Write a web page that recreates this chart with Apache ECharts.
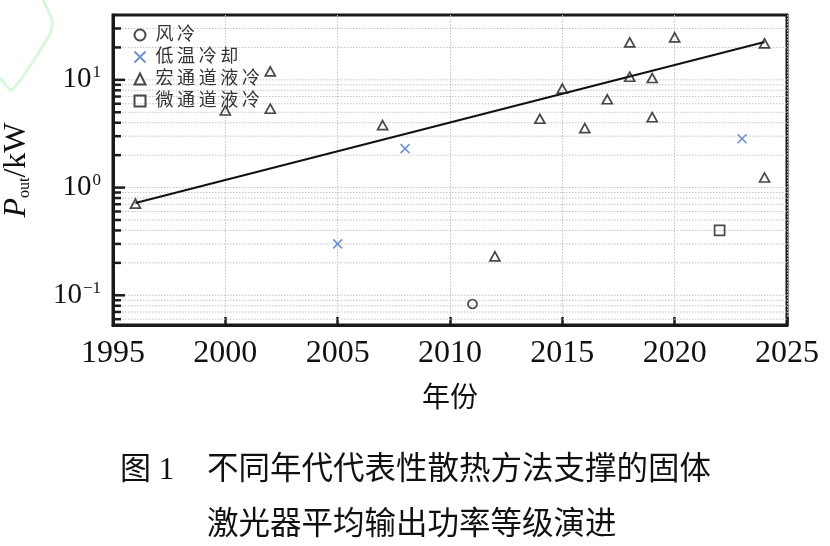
<!DOCTYPE html>
<html>
<head>
<meta charset="utf-8">
<script src="https://cdn.jsdelivr.net/npm/echarts@6/dist/echarts.min.js"></script>
<style>
  html, body { margin: 0; padding: 0; background: #fff; }
  #chart { width: 830px; height: 546px; }
</style>
</head>
<body>
<div id="chart"></div>
<script>
var serif = '"Liberation Serif", "Noto Sans CJK SC", serif';

// data (year, P_out in kW)
var airCooled = [[2011, 0.083]];
var cryoCooled = [[2005, 0.30], [2008, 2.3], [2023, 2.84]];
var macroChannel = [
    [1996, 0.71], [2000, 5.2], [2002, 12.0], [2002, 5.4], [2007, 3.8],
    [2012, 0.23], [2014, 4.35], [2015, 8.3], [2016, 3.56], [2017, 6.6],
    [2018, 22.3], [2018, 10.7], [2019, 10.4], [2019, 4.5], [2020, 24.8],
    [2024, 21.8], [2024, 1.24]
];
var microChannel = [[2022, 0.40]];
var fitLine = [[1996, 0.72], [2024, 22.5]];

var seriesNames = ['风冷', '低温冷却', '宏通道液冷', '微通道液冷'];
var decadeLabels = { '0.1': '−1', '1': '0', '10': '1' };
// minor + major ticks of the log axis
var yTickValues = [
    0.06, 0.07, 0.08, 0.09, 0.1, 0.2, 0.3, 0.4, 0.5, 0.6, 0.7, 0.8, 0.9,
    1, 2, 3, 4, 5, 6, 7, 8, 9, 10, 20, 30
];

function isDecade(v) {
    var l = Math.log10(v);
    return Math.abs(l - Math.round(l)) < 1e-6;
}

var chart = echarts.init(document.getElementById('chart'));

var markerStyle = {
    color: 'none',
    borderColor: '#1a1a1a',
    borderWidth: 1.7
};

var option = {
    animation: false,
    backgroundColor: '#fff',
    grid: {
        left: 113, right: 43, top: 15, bottom: 221,
        containLabel: false,
        outerBoundsMode: 'none',
        show: true,
        borderColor: '#1a1a1a',
        borderWidth: 3,
        backgroundColor: 'transparent'
    },
    legend: {
        orient: 'vertical',
        left: 127,
        top: 21,
        itemWidth: 11,
        itemHeight: 11,
        itemGap: 4,
        data: seriesNames,
        formatter: function (name) { return name.split('').join('\u2009'); },
        textStyle: {
            fontFamily: serif,
            fontSize: 18,
            color: '#333',
            padding: [0, 0, 0, 5]
        }
    },
    xAxis: {
        type: 'value',
        min: 1995,
        max: 2025,
        interval: 5,
        name: '年份',
        nameLocation: 'middle',
        nameGap: 61,
        nameTextStyle: { fontFamily: serif, fontSize: 28, color: '#111' },
        axisLine: { show: true, lineStyle: { color: '#1a1a1a', width: 3 } },
        axisTick: { show: true, inside: true, length: 8, lineStyle: { color: '#1a1a1a', width: 2.5 } },
        axisLabel: {
            fontFamily: serif, fontSize: 32, color: '#111', margin: 13,
            formatter: function (v) { return String(v); }
        },
        splitLine: { show: true, lineStyle: { color: '#c4c4c4', width: 1, type: [1.5, 1.5] } }
    },
    yAxis: {
        type: 'log',
        logBase: 10,
        min: 0.053,
        max: 40,
        name: '{p|P}{sub|out}{u|/kW}',
        nameLocation: 'middle',
        nameRotate: 90,
        nameGap: 80,
        nameTextStyle: {
            rich: {
                p: { fontFamily: serif, fontSize: 32, fontStyle: 'italic', color: '#111' },
                sub: { fontFamily: serif, fontSize: 16, color: '#111', verticalAlign: 'bottom', padding: [12, 0, 0, 0] },
                u: { fontFamily: serif, fontSize: 32, color: '#111' }
            }
        },
        axisLine: { show: true, lineStyle: { color: '#1a1a1a', width: 3 } },
        axisTick: { show: false },
        splitLine: { show: false },
        axisLabel: {
            margin: 12,
            formatter: function (v) {
                if (!isDecade(v)) return '';
                var key = String(Math.round(Math.pow(10, Math.round(Math.log10(v))) * 10) / 10);
                return '{b|10}{s|' + decadeLabels[key] + '}';
            },
            rich: {
                b: { fontFamily: serif, fontSize: 29, color: '#111' },
                s: { fontFamily: serif, fontSize: 17, color: '#111', verticalAlign: 'top', padding: [0, 0, 14, 1] }
            }
        }
    },
    graphic: [
        {
            type: 'polyline', silent: true,
            shape: { points: [[43, 0], [52, 20], [50, 34], [12, 90], [0, 78]], smooth: 0.2 },
            style: { stroke: '#d6f8de', lineWidth: 3, fill: null }
        },
        {
            type: 'text', left: 120, top: 455,
            style: { text: '图 1', font: '31px ' + serif, fill: '#111' }
        },
        {
            type: 'text', left: 207, top: 455,
            style: { text: '不同年代代表性散热方法支撑的固体', font: '31.5px ' + serif, fill: '#111' }
        },
        {
            type: 'text', left: 207, top: 510,
            style: { text: '激光器平均输出功率等级演进', font: '31.5px ' + serif, fill: '#111' }
        }
    ],
    series: [
        {
            // dotted horizontal grid + inward ticks on the log axis
            type: 'custom',
            silent: true,
            z: 1,
            data: yTickValues.map(function (v) { return [1995, v]; }),
            renderItem: function (params, api) {
                var v = api.value(1);
                var p = api.coord([1995, v]);
                var cs = params.coordSys;
                var major = isDecade(v);
                return {
                    type: 'group',
                    children: [
                        {
                            type: 'line',
                            shape: { x1: cs.x, y1: p[1], x2: cs.x + cs.width, y2: p[1] },
                            style: { stroke: '#c4c4c4', lineWidth: 1, lineDash: [1.5, 1.5] }
                        },
                        {
                            type: 'line',
                            shape: { x1: cs.x, y1: p[1], x2: cs.x + (major ? 12 : 8), y2: p[1] },
                            style: { stroke: '#1a1a1a', lineWidth: 2.5 }
                        }
                    ]
                };
            }
        },
        {
            type: 'line',
            data: fitLine,
            symbol: 'none',
            z: 3,
            lineStyle: { color: '#111', width: 2 }
        },
        {
            name: '风冷', type: 'scatter', data: airCooled, z: 4,
            symbol: 'circle', symbolSize: 9, itemStyle: markerStyle
        },
        {
            name: '低温冷却', type: 'scatter', data: cryoCooled, z: 4,
            symbol: 'path://M0,0L10,10M10,0L0,10', symbolSize: 9,
            itemStyle: { color: 'none', borderColor: '#4a78bd', borderWidth: 1.6 }
        },
        {
            name: '宏通道液冷', type: 'scatter', data: macroChannel, z: 4,
            symbol: 'triangle', symbolSize: [10, 9], itemStyle: markerStyle
        },
        {
            name: '微通道液冷', type: 'scatter', data: microChannel, z: 4,
            symbol: 'rect', symbolSize: 10, itemStyle: markerStyle
        }
    ]
};

chart.setOption(option);
</script>
</body>
</html>
